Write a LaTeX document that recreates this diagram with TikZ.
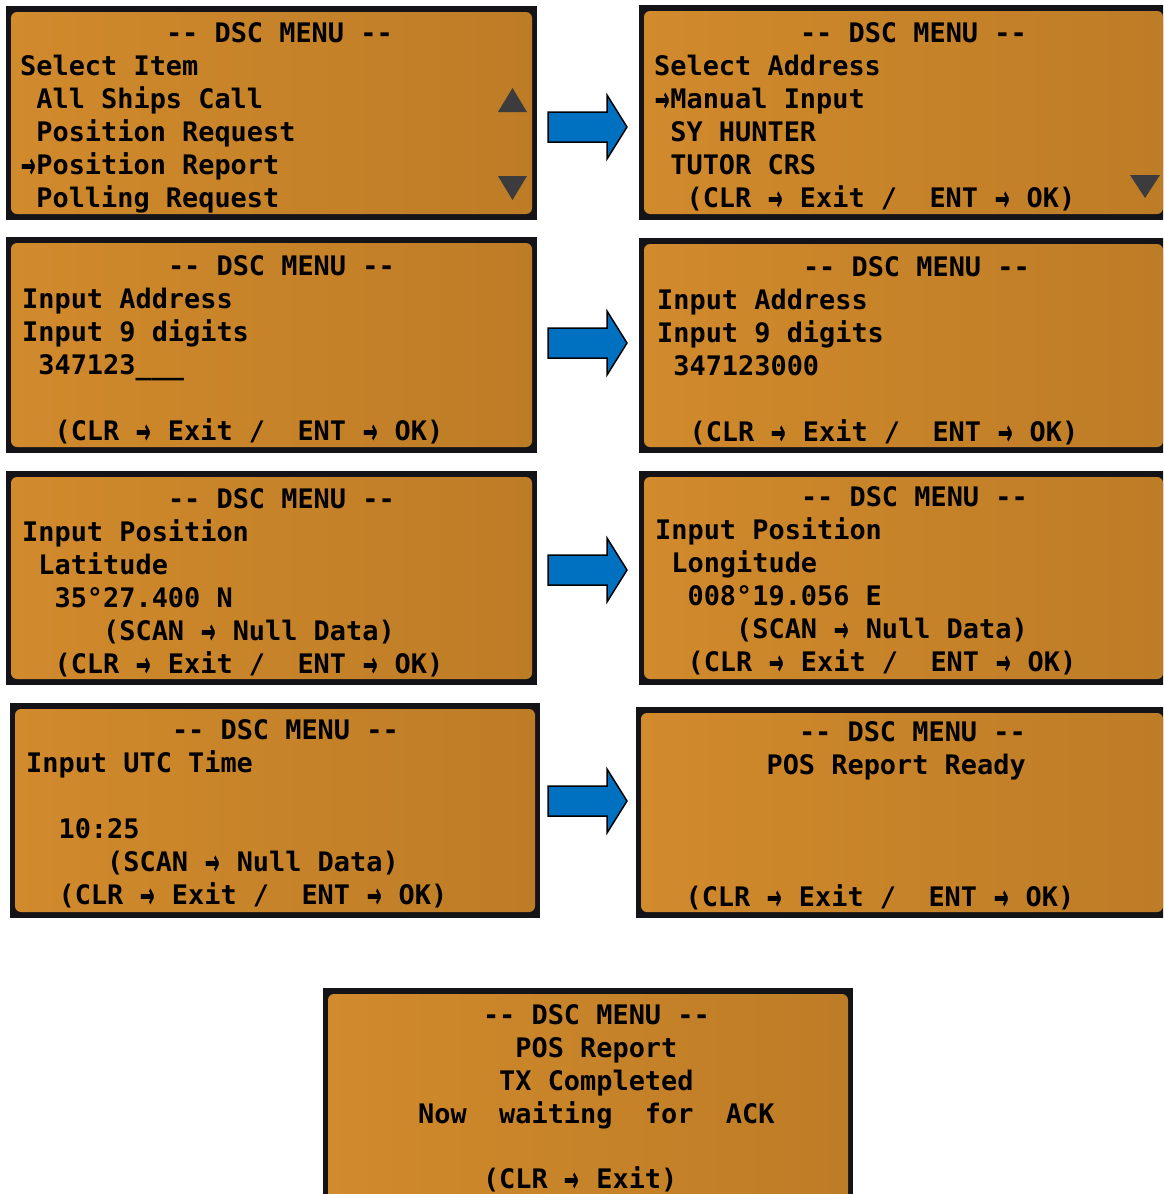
\documentclass[tikz,border=0pt]{standalone}
\usepackage{fontspec}
\newfontfamily\lcdfont{DejaVu Sans Mono}
\definecolor{lcdL}{RGB}{209,138,44}
\definecolor{lcdR}{RGB}{189,124,38}
\definecolor{frameblk}{RGB}{20,20,24}
\definecolor{tri}{RGB}{60,60,62}
\definecolor{arrowblue}{RGB}{0,112,192}
\newcommand\dd{-\kern0pt-}
\newcommand\ra{\makebox[16.2pt][c]{\raisebox{-5.5pt}{\scalebox{0.9}[1.7]{→}}}}
% screen: #1 name, #2 x1, #3 y1, #4 x2, #5 y2
\newcommand\lcdscreen[5]{%
  \coordinate (#1a) at (#2,#3);
  \coordinate (#1b) at (#4,#5);
  \fill[frameblk] (#1a) rectangle (#1b);
  \path[lcdface] ([xshift=5pt,yshift=-6pt]#1a) rectangle ([xshift=-5pt,yshift=6pt]#1b);
}
% text row: #1 name, #2 x0, #3 col, #4 baseline, #5 text
\newcommand\lcdrow[5]{\node[lcdtxt] (#1) at ({#2+#3*16.2},#4) {#5};}
% block arrow centred at y=#2, named #1
\newcommand\bluearrow[2]{%
  \coordinate (#1) at (587,#2);
  \draw[blockarrow] ([shift={(-39,-15)}]#1) -- ([shift={(20,-15)}]#1) -- ([shift={(20,-32)}]#1)
    -- ([shift={(40,0)}]#1) -- ([shift={(20,32)}]#1) -- ([shift={(20,15)}]#1)
    -- ([shift={(-39,15)}]#1) -- cycle;
}
\begin{document}
\begin{tikzpicture}[x=1pt,y=-1pt,
  lcdface/.style={left color=lcdL,right color=lcdR,rounded corners=6pt},
  lcdtxt/.style={anchor=base west,inner sep=0pt,font=\lcdfont\bfseries\fontsize{26.9}{30}\selectfont,text=black},
  blockarrow/.style={fill=arrowblue,draw=black,line width=1.5pt,line join=miter},
  scrolltri/.style={fill=tri}]
\fill[white] (0,0) rectangle (1163,1194);
\useasboundingbox (0,0) rectangle (1163,1194);
\clip (0,0) rectangle (1163,1194);

% ---------- Screen 1 ----------
\lcdscreen{s1}{6}{6}{537}{220}
\lcdrow{s1r0}{20}{9}{42}{\dd{} DSC MENU \dd}
\lcdrow{s1r1}{20}{0}{75}{Select Item}
\lcdrow{s1r2}{20}{1}{108}{All Ships Call}
\lcdrow{s1r3}{20}{1}{141}{Position Request}
\lcdrow{s1r4}{20}{0}{174}{\ra Position Report}
\lcdrow{s1r5}{20}{1}{207}{Polling Request}
\fill[scrolltri] (498,112) -- (527,112) -- (512.5,88) -- cycle;
\fill[scrolltri] (498,176) -- (527,176) -- (512.5,200) -- cycle;

% ---------- Screen 2 ----------
\lcdscreen{s2}{639}{5}{1168}{220}
\lcdrow{s2r0}{654}{9}{42}{\dd{} DSC MENU \dd}
\lcdrow{s2r1}{654}{0}{75}{Select Address}
\lcdrow{s2r2}{654}{0}{108}{\ra Manual Input}
\lcdrow{s2r3}{654}{1}{141}{SY HUNTER}
\lcdrow{s2r4}{654}{1}{174}{TUTOR CRS}
\lcdrow{s2r5}{654}{2}{207}{(CLR \ra{} Exit /~ ENT \ra{} OK)}
\fill[scrolltri] (1130,175) -- (1160,175) -- (1145,198) -- cycle;

% ---------- Screen 3 ----------
\lcdscreen{s3}{6}{237}{537}{453}
\lcdrow{s3r0}{22}{9}{275}{\dd{} DSC MENU \dd}
\lcdrow{s3r1}{22}{0}{308}{Input Address}
\lcdrow{s3r2}{22}{0}{341}{Input 9 digits}
\lcdrow{s3r3}{22}{1}{374}{347123\_\_\_}
\lcdrow{s3r5}{22}{2}{440}{(CLR \ra{} Exit /~ ENT \ra{} OK)}

% ---------- Screen 4 ----------
\lcdscreen{s4}{639}{238}{1168}{453}
\lcdrow{s4r0}{657}{9}{276}{\dd{} DSC MENU \dd}
\lcdrow{s4r1}{657}{0}{309}{Input Address}
\lcdrow{s4r2}{657}{0}{342}{Input 9 digits}
\lcdrow{s4r3}{657}{1}{375}{347123000}
\lcdrow{s4r5}{657}{2}{441}{(CLR \ra{} Exit /~ ENT \ra{} OK)}

% ---------- Screen 5 ----------
\lcdscreen{s5}{6}{471}{537}{685}
\lcdrow{s5r0}{22}{9}{508}{\dd{} DSC MENU \dd}
\lcdrow{s5r1}{22}{0}{541}{Input Position}
\lcdrow{s5r2}{22}{1}{574}{Latitude}
\lcdrow{s5r3}{22}{2}{607}{35°27.400 N}
\lcdrow{s5r4}{22}{5}{640}{(SCAN \ra{} Null Data)}
\lcdrow{s5r5}{22}{2}{673}{(CLR \ra{} Exit /~ ENT \ra{} OK)}

% ---------- Screen 6 ----------
\lcdscreen{s6}{639}{471}{1168}{685}
\lcdrow{s6r0}{655}{9}{506}{\dd{} DSC MENU \dd}
\lcdrow{s6r1}{655}{0}{539}{Input Position}
\lcdrow{s6r2}{655}{1}{572}{Longitude}
\lcdrow{s6r3}{655}{2}{605}{008°19.056 E}
\lcdrow{s6r4}{655}{5}{638}{(SCAN \ra{} Null Data)}
\lcdrow{s6r5}{655}{2}{671}{(CLR \ra{} Exit /~ ENT \ra{} OK)}

% ---------- Screen 7 ----------
\lcdscreen{s7}{10}{703}{540}{918}
\lcdrow{s7r0}{26}{9}{739}{\dd{} DSC MENU \dd}
\lcdrow{s7r1}{26}{0}{772}{Input UTC Time}
\lcdrow{s7r3}{26}{2}{838}{10:25}
\lcdrow{s7r4}{26}{5}{871}{(SCAN \ra{} Null Data)}
\lcdrow{s7r5}{26}{2}{904}{(CLR \ra{} Exit /~ ENT \ra{} OK)}

% ---------- Screen 8 ----------
\lcdscreen{s8}{636}{707}{1168}{918}
\lcdrow{s8r0}{653}{9}{741}{\dd{} DSC MENU \dd}
\lcdrow{s8r1}{653}{7}{774}{POS Report Ready}
\lcdrow{s8r5}{653}{2}{906}{(CLR \ra{} Exit /~ ENT \ra{} OK)}

% ---------- Screen 9 ----------
\lcdscreen{s9}{323}{988}{853}{1210}
\lcdrow{s9r0}{337}{9}{1024}{\dd{} DSC MENU \dd}
\lcdrow{s9r1}{337}{11}{1057}{POS Report}
\lcdrow{s9r2}{337}{10}{1090}{TX Completed}
\lcdrow{s9r3}{337}{5}{1123}{Now~ waiting~ for~ ACK}
\lcdrow{s9r5}{337}{9}{1188}{(CLR \ra{} Exit)}

% ---------- Arrows ----------
\bluearrow{ar1}{127}
\bluearrow{ar2}{343}
\bluearrow{ar3}{570}
\bluearrow{ar4}{801}
\end{tikzpicture}
\end{document}
